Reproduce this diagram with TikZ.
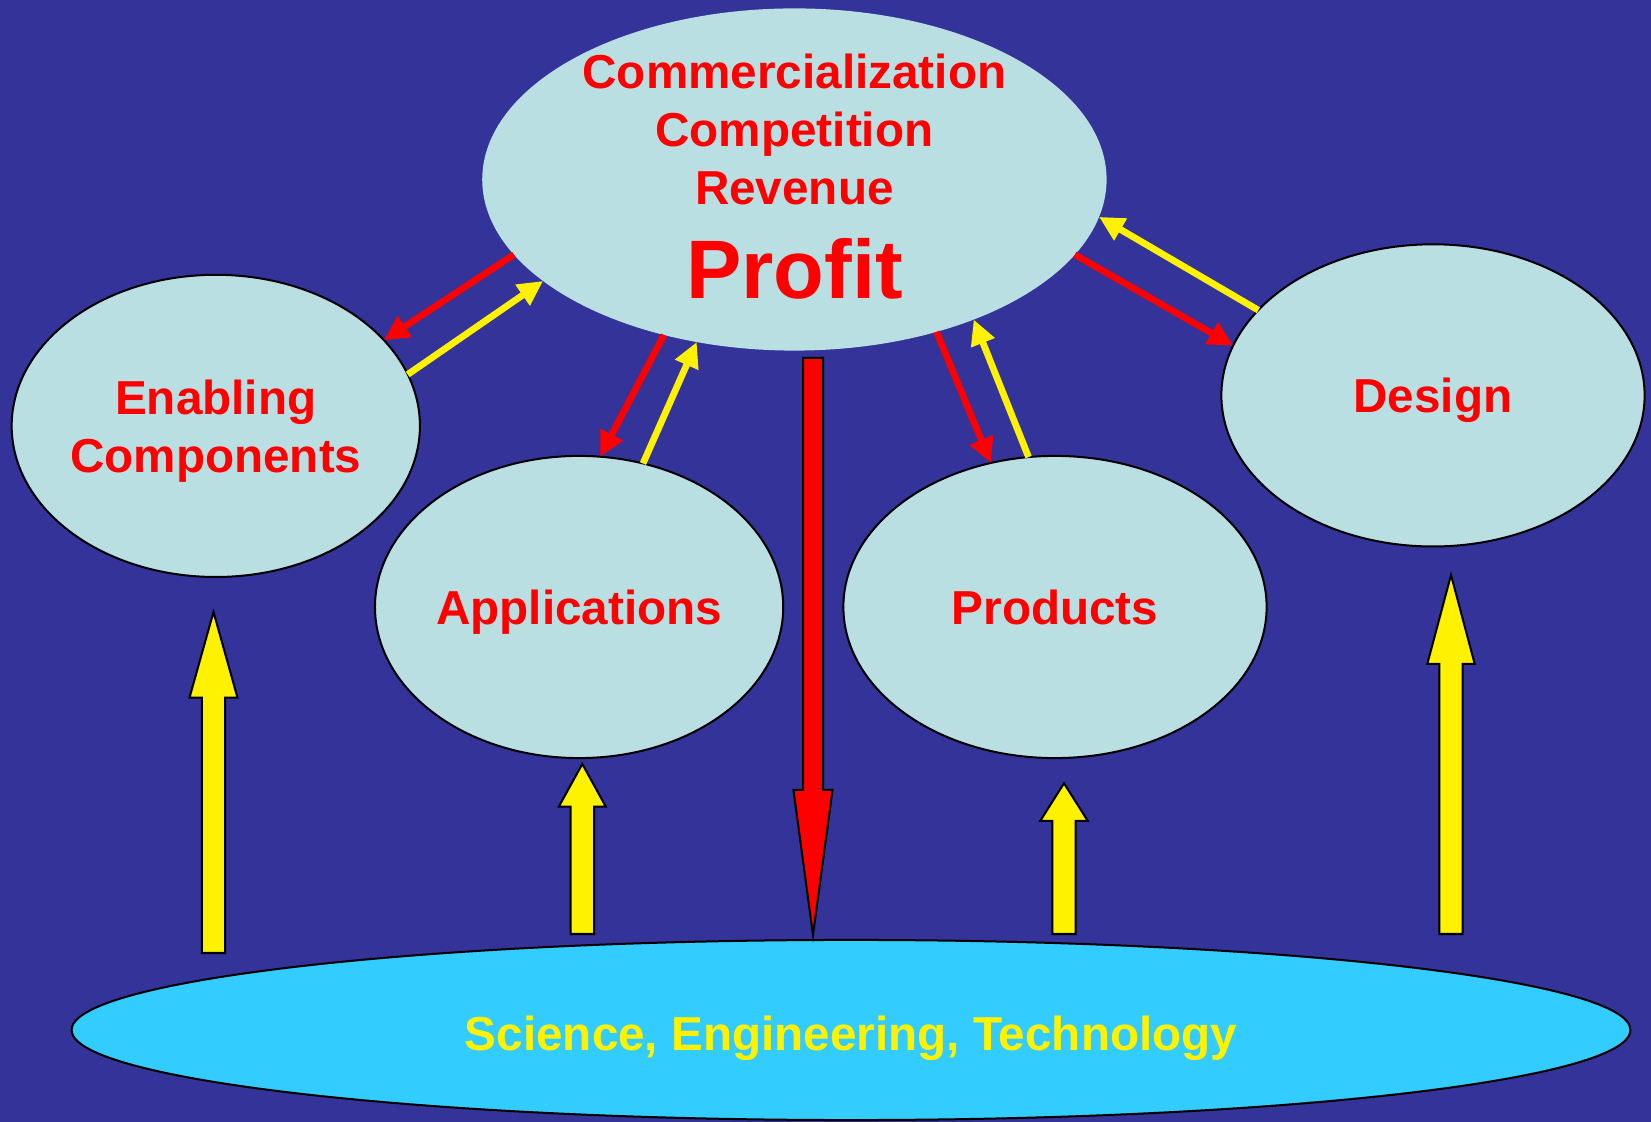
\documentclass[tikz,border=0pt]{standalone}
\usepackage{fontspec}
\setmainfont{Liberation Sans}
\usetikzlibrary{arrows.meta,shapes.geometric}

\definecolor{slide}{RGB}{51,51,153}
\definecolor{ovalfill}{RGB}{186,223,227}
\definecolor{scifill}{RGB}{51,204,255}

% fat block arrow: [fill]{x}{tail y}{head base y}{tip y}{half shaft}{half head}
\newcommand{\blockarrow}[7][yellow]{%
  \draw[block, fill=#1] (#2-#6,#3) -- (#2-#6,#4) -- (#2-#7,#4) -- (#2,#5)
    -- (#2+#7,#4) -- (#2+#6,#4) -- (#2+#6,#3) -- cycle;}

\begin{document}
\begin{tikzpicture}[x=0.01cm, y=-0.01cm,
    oval/.style = {ellipse, draw=black, line width=0.02cm, fill=ovalfill, inner ysep=0pt, inner xsep=-0.08cm, outer sep=0pt,
                   text=red, text depth=0pt, align=center, font=\bfseries\fontsize{13.55pt}{16.5pt}\selectfont},
    link/.style = {line width=0.067cm, -{Triangle[length=0.25cm, width=0.24cm]}},
    tored/.style = {link, red},
    toyellow/.style = {link, yellow},
    block/.style = {draw=black, line width=0.02cm, line join=miter}]

    \useasboundingbox (0,0) rectangle (1651,1122);
    \fill[slide] (0,0) rectangle (1651,1122);

    % ovals
    \node[oval, draw=none, text depth=1.8pt, inner ysep=-0.3cm, minimum width=6.24cm, minimum height=3.42cm] (profit) at (794.4,179.5)
        {Commercialization\\Competition\\Revenue\\[8.6pt]{\fontsize{23.6pt}{28pt}\selectfont Profit}};
    \node[oval, minimum width=4.08cm, minimum height=3.02cm] (enabling) at (215.8,425.9) {Enabling\\Components};
    \node[oval, minimum width=4.08cm, minimum height=3.02cm] (applications) at (579.1,607) {Applications};
    \node[oval, minimum width=4.23cm, minimum height=3.02cm] (products) at (1055,607) {Products};
    \node[oval, minimum width=4.23cm, minimum height=3.02cm] (design) at (1433,395.4) {Design};
    \node[oval, fill=scifill, text=yellow, text height=0.41cm, minimum width=15.58cm, minimum height=1.8cm] (science) at (851,1030)
        {Science, Engineering, Technology};

    % feedback arrows
    \draw[tored] (profit.195) -- (enabling.27);
    \draw[toyellow] (enabling.15) -- (profit.202);
    \draw[tored] (profit.230) -- (applications.82);
    \draw[toyellow] (applications.66) -- (profit.239);
    \draw[tored] (profit.313) -- (products.114);
    \draw[toyellow] (products.100) -- (profit.322);
    \draw[tored] (profit.345) -- (design.166);
    \draw[toyellow] (design.154) -- (profit.353);

    % big arrows
    \blockarrow[red]{813}{358}{790}{935}{10}{19.5}
    \blockarrow{213.5}{953}{697.7}{612}{11.7}{24}
    \blockarrow{582.3}{934}{806.7}{764}{11.7}{23.5}
    \blockarrow{1064}{934}{821}{783.3}{11.7}{23.8}
    \blockarrow{1451}{934}{664}{575}{11.7}{23.7}

\end{tikzpicture}
\end{document}
